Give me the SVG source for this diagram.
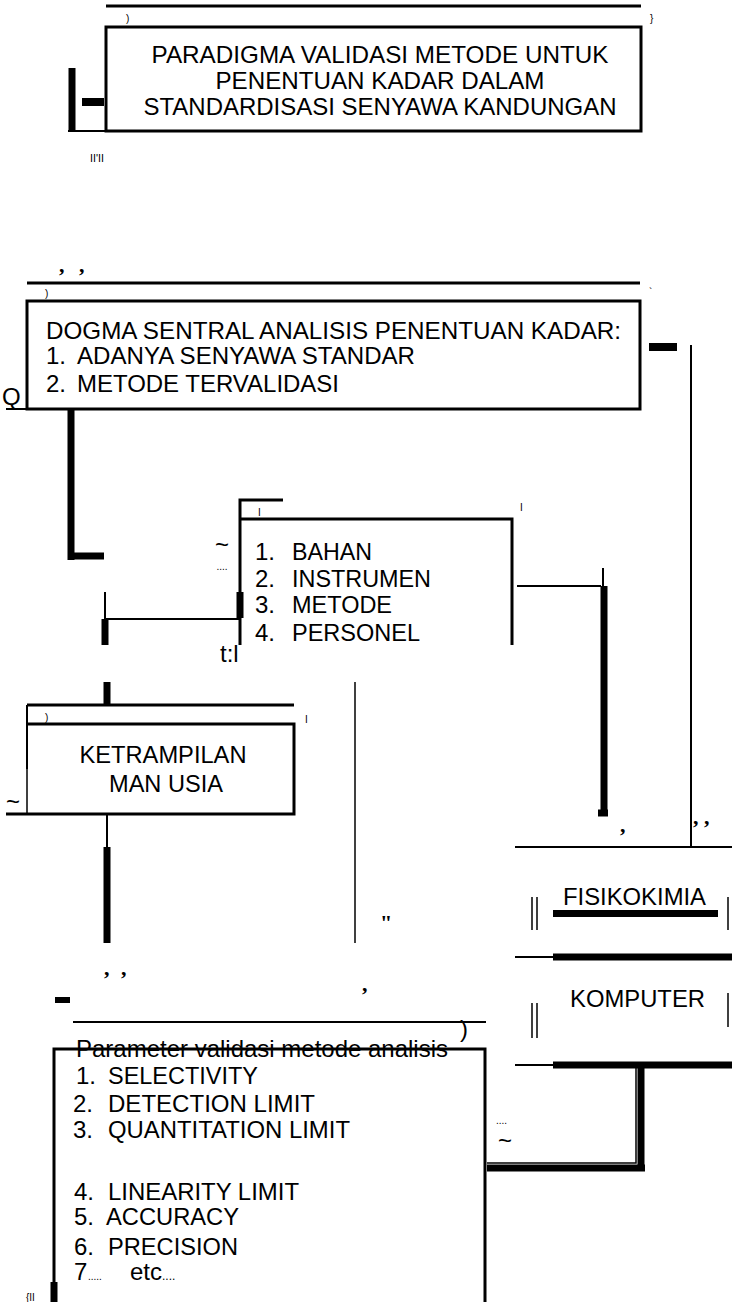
<svg xmlns="http://www.w3.org/2000/svg" width="732" height="1302" viewBox="0 0 732 1302">
<style>
.t{font-family:"Liberation Sans",Arial,sans-serif;font-size:24px;fill:#000}
.sm{font-family:"Liberation Sans",Arial,sans-serif;font-size:10px;fill:#000}
.cm{font-family:"Liberation Serif","Times New Roman",serif;font-size:22px;font-weight:bold;fill:#000}
.bx{fill:none;stroke:#000;stroke-width:3}
.ln{fill:none;stroke:#000;stroke-width:2}
.hl{fill:none;stroke:#000;stroke-width:1.5}
.tk{fill:none;stroke:#000;stroke-width:7}
</style>
<rect width="732" height="1302" fill="#fff"/>

<g id="connectors">
  <!-- bracket left of title -->
  <path class="tk" d="M72,68 V132" stroke-width="8"/>
  <path class="ln" d="M68,131 H106"/>
  <rect x="82" y="98" width="22" height="8" fill="#000"/>
  <!-- dogma to sumber daya -->
  <path class="tk" d="M71,409 V560 M68,556 H104"/>
  <!-- dogma right dash + long vertical -->
  <rect x="649" y="343" width="28" height="8" fill="#000"/>
  <path class="ln" d="M691,345 V848" stroke-width="4.5"/>
  <!-- sumber left connector -->
  <path class="ln" d="M105,619 H240"/>
  <path class="ln" d="M105,592 V619"/>
  <path class="tk" d="M105,619 V645" stroke-width="6"/>
  <!-- sumber right connector -->
  <path class="ln" d="M517,586 H601"/>
  <path class="ln" d="M603,568 V586" stroke-width="4"/>
  <path class="tk" d="M604,586 V813" stroke-width="8"/>
  <path class="tk" d="M598,813 H608" stroke-width="5"/>
  <!-- to ketrampilan -->
  <path class="tk" d="M107,682 V705" stroke-width="5"/>
  <path class="ln" d="M107,814 V847" stroke-width="3"/>
  <path class="tk" d="M107,847 V943" stroke-width="5"/>
  <!-- thin vertical middle -->
  <path class="hl" d="M355,682 V943"/>
  <!-- small dash left of parameter -->
  <rect x="55" y="997" width="15" height="6" fill="#000"/>
  <!-- komputer to parameter -->
  <path class="tk" d="M641,1068 V1168 M487,1168 H645" stroke-width="8"/>
  <path class="hl" d="M487,1163 H636 V1068"/>
</g>

<g id="node-paradigma">
  <path class="bx" d="M106,6 H641" stroke-width="2.5"/>
  <rect class="bx" x="106" y="27" width="535" height="104"/>
  <text class="sm" x="126" y="22">)</text>
  <text class="sm" x="650" y="22">}</text>
  <text class="t" x="380" y="63" text-anchor="middle" textLength="457" lengthAdjust="spacingAndGlyphs">PARADIGMA VALIDASI METODE UNTUK</text>
  <text class="t" x="380" y="89" text-anchor="middle" textLength="329" lengthAdjust="spacingAndGlyphs">PENENTUAN KADAR DALAM</text>
  <text class="t" x="380" y="115" text-anchor="middle" textLength="473" lengthAdjust="spacingAndGlyphs">STANDARDISASI SENYAWA KANDUNGAN</text>
  <text class="sm" x="90" y="162" textLength="14" lengthAdjust="spacingAndGlyphs">II'II</text>
</g>

<g id="node-dogma">
  <path class="bx" d="M27,283 H640" stroke-width="2.5"/>
  <rect class="bx" x="27" y="301" width="613" height="108"/>
  <path class="ln" d="M6,409 H27"/>
  <text class="t" x="2" y="405" font-size="16">Q</text>
  <text class="sm" x="45" y="297">)</text>
  <text class="cm" x="59" y="272">,</text>
  <text class="cm" x="79" y="272">,</text>
  <text class="sm" x="649" y="296">`</text>
  <text class="t" x="46" y="339" textLength="575" lengthAdjust="spacingAndGlyphs">DOGMA SENTRAL ANALISIS  PENENTUAN KADAR:</text>
  <text class="t" x="46" y="364">1.</text>
  <text class="t" x="77" y="364" textLength="338" lengthAdjust="spacingAndGlyphs">ADANYA SENYAWA STANDAR</text>
  <text class="t" x="46" y="392">2.</text>
  <text class="t" x="77" y="392" textLength="262" lengthAdjust="spacingAndGlyphs">METODE TERVALIDASI</text>
</g>

<g id="node-sumber">
  <path class="bx" d="M240,645 V500 H283" stroke-width="2.5"/>
  <path class="bx" d="M240,519 H512 V645" stroke-width="2.5"/>
  <path class="tk" d="M240,592 V618" stroke-width="5"/>
  <text class="sm" x="258" y="516">I</text>
  <text class="sm" x="520" y="511">I</text>
  <text class="t" x="222" y="553" font-size="16" text-anchor="middle">~</text>
  <text class="sm" x="222" y="570" text-anchor="middle" font-size="8">....</text>
  <text class="t" x="255" y="560" font-size="18">1.</text>
  <text class="t" x="292" y="560" textLength="80" lengthAdjust="spacingAndGlyphs">BAHAN</text>
  <text class="t" x="255" y="587">2.</text>
  <text class="t" x="292" y="587" textLength="139" lengthAdjust="spacingAndGlyphs">INSTRUMEN</text>
  <text class="t" x="255" y="613">3.</text>
  <text class="t" x="292" y="613" textLength="100" lengthAdjust="spacingAndGlyphs">METODE</text>
  <text class="t" x="255" y="641">4.</text>
  <text class="t" x="292" y="641" textLength="128" lengthAdjust="spacingAndGlyphs">PERSONEL</text>
  <text class="t" x="220" y="662" font-size="16">t:l</text>
</g>

<g id="node-ketrampilan">
  <path class="bx" d="M27,705 H294" stroke-width="2.5"/>
  <path class="bx" d="M27,724 H294 V814 H6" stroke-width="2.5"/>
  <path class="ln" d="M27,705 V769" stroke-width="4"/>
  <path class="hl" d="M27,769 V814"/>
  <text class="sm" x="45" y="721">)</text>
  <text class="sm" x="305" y="723">I</text>
  <text class="t" x="6" y="810" font-size="20">~</text>
  <text class="t" x="163" y="763" text-anchor="middle" textLength="167" lengthAdjust="spacingAndGlyphs">KETRAMPILAN</text>
  <text class="t" x="166" y="792" text-anchor="middle" textLength="114" lengthAdjust="spacingAndGlyphs">MAN USIA</text>
</g>

<g id="marks">
  <text class="cm" x="620" y="832">,</text>
  <text class="cm" x="693" y="824">,</text>
  <text class="cm" x="704" y="824">,</text>
  <text class="cm" x="380" y="930" font-size="16">"</text>
  <text class="cm" x="104" y="975">,</text>
  <text class="cm" x="121" y="975">,</text>
  <text class="cm" x="362" y="991">,</text>
  <text class="sm" x="26" y="1301" font-size="12">{II</text>
  <text class="sm" x="496" y="1124" font-size="7">....</text>
  <text class="t" x="498" y="1149" font-size="18">~</text>
</g>

<g id="node-fisikokimia">
  <path class="ln" d="M515,847 H732"/>
  <path class="hl" d="M532,897 V930 M537,897 V930"/>
  <text class="t" x="563" y="905" textLength="143" lengthAdjust="spacingAndGlyphs">FISIKOKIMIA</text>
  <path class="tk" d="M553,913.5 H718" stroke-width="5"/>
  <path class="hl" d="M728,897 V930" stroke-width="2"/>
  <path class="ln" d="M515,957 H553"/>
  <path class="tk" d="M553,957 H732" stroke-width="5"/>
  <path class="hl" d="M532,1003 V1038 M537,1003 V1038"/>
  <text class="t" x="570" y="1007" textLength="135" lengthAdjust="spacingAndGlyphs">KOMPUTER</text>
  <path class="hl" d="M728,993 V1027" stroke-width="2"/>
  <path class="ln" d="M515,1065 H553"/>
  <path class="tk" d="M553,1065 H732" stroke-width="5"/>
</g>

<g id="node-parameter">
  <path class="ln" d="M73,1022 H486"/>
  <text class="t" x="460" y="1037" font-size="28">)</text>
  <text class="t" x="76" y="1057" textLength="372" lengthAdjust="spacingAndGlyphs">Parameter validasi metode analisis</text>
  <path class="bx" d="M54,1302 V1049 H485 V1302"/>
  <path class="tk" d="M54,1282 V1302" stroke-width="5"/>
  <text class="t" x="76" y="1084">1.</text>
  <text class="t" x="108" y="1084" textLength="150" lengthAdjust="spacingAndGlyphs">SELECTIVITY</text>
  <text class="t" x="73" y="1112">2.</text>
  <text class="t" x="108" y="1112" textLength="207" lengthAdjust="spacingAndGlyphs">DETECTION LIMIT</text>
  <text class="t" x="73" y="1138">3.</text>
  <text class="t" x="108" y="1138" textLength="242" lengthAdjust="spacingAndGlyphs">QUANTITATION LIMIT</text>
  <text class="t" x="74" y="1200">4.</text>
  <text class="t" x="108" y="1200" textLength="191" lengthAdjust="spacingAndGlyphs">LINEARITY LIMIT</text>
  <text class="t" x="74" y="1225">5.</text>
  <text class="t" x="106" y="1225" textLength="133" lengthAdjust="spacingAndGlyphs">ACCURACY</text>
  <text class="t" x="74" y="1255">6.</text>
  <text class="t" x="108" y="1255" textLength="130" lengthAdjust="spacingAndGlyphs">PRECISION</text>
  <text class="t" x="74" y="1280">7</text>
  <text class="sm" x="88" y="1280">.....</text>
  <text class="t" x="130" y="1280">etc<tspan font-size="12">....</tspan></text>
</g>
</svg>
